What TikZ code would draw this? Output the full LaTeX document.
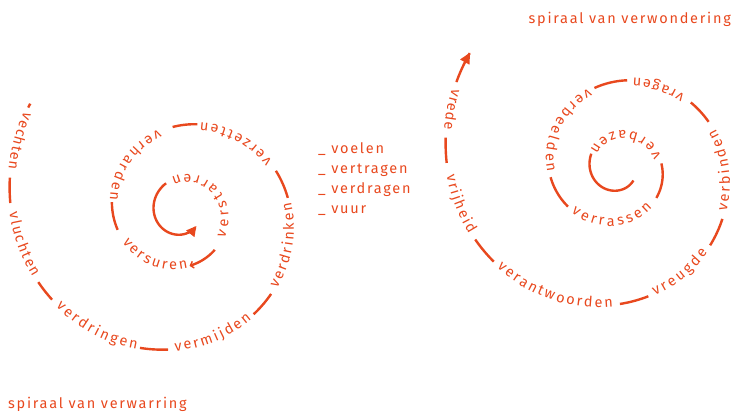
\documentclass[tikz,border=0pt]{standalone}
\usepackage{fontspec}
\setmainfont{Fira Sans}
\newfontfamily\spfont{Fira Sans}
\newfontfamily\lbfont[LetterSpace=12]{Fira Sans}
\usetikzlibrary{decorations.text,arrows.meta}
\definecolor{spo}{RGB}{232,72,30}
\newcommand\spstyle{\spfont\fontsize{14.5}{17}\selectfont\color{spo}}
\newcommand\spword[5]{%
  \path[decorate,decoration={text along path,text={|\spstyle|#5},text align={fit to path},raise=-2pt}]
    plot[domain=#3:#4,samples=60] ({#1+R(\x)*cos(\x)},{#2+R(\x)*sin(\x)});}
\newcommand\spseg[5][]{%
  \draw[segline,#1] plot[domain=#4:#5,samples=40] ({#2+R(\x)*cos(\x)},{#3+R(\x)*sin(\x)});}
\begin{document}
\begin{tikzpicture}[x=1pt,y=1pt,
  declare function={R(\t)=62*exp(-(\t-585)/400);},
  segline/.style={draw=spo,line width=2.4pt},
  lab/.style={font=\lbfont\fontsize{14.5}{17}\selectfont,text=spo,inner sep=0pt,anchor=base west},
  ttl/.style={font=\lbfont\fontsize{14.5}{17}\selectfont,text=spo,inner sep=0pt}]
\useasboundingbox (0,0) rectangle (733,-412);
% ---------- left spiral: spiraal van verwarring ----------
\spseg{182}{-212}{144.5}{145.8}
\spword{182}{-212}{147.5}{166}{vechten}
\spseg{182}{-212}{168.7}{177}
\spword{182}{-212}{180}{203.5}{vluchten}
\spseg{182}{-212}{206}{214}
\spword{182}{-212}{216.7}{251.7}{verdringen}
\spseg{182}{-212}{252.8}{264.2}
\spword{182}{-212}{267}{303}{vermijden}
\spseg{182}{-212}{305}{317.4}
\spword{182}{-212}{321}{364.9}{verdrinken}
\spseg{182}{-212}{367.6}{383.7}
\spword{182}{-212}{389}{438.3}{verzetten}
\spseg{182}{-212}{440}{456.3}
\spword{182}{-212}{465.6}{530.5}{verharden}
\spseg{182}{-212}{531.9}{555.5}
\spword{182}{-212}{566.6}{635.9}{versuren}
\spseg[{Straight Barb[length=3pt,width=7pt,line width=1.4pt]}-]{182}{-212}{638}{670.9}
\spword{182}{-212}{688}{827}{verstarren}
\spseg[-{Triangle[length=10pt,width=10pt]}]{182}{-212}{839}{1036}
% ---------- right spiral: spiraal van verwondering ----------
\spseg[{Triangle[length=11pt,width=10pt]}-]{618}{-168}{142}{152}
\spword{618}{-168}{154.2}{167.5}{vrede}
\spseg{618}{-168}{170}{178.3}
\spword{618}{-168}{182.4}{203.8}{vrijheid}
\spseg{618}{-168}{206.6}{217}
\spword{618}{-168}{219.3}{267.9}{verantwoorden}
\spseg{618}{-168}{270.8}{283.3}
\spword{618}{-168}{286}{316.6}{vreugde}
\spseg{618}{-168}{320}{334}
\spword{618}{-168}{338}{381.8}{verbinden}
\spseg{618}{-168}{387}{402}
\spword{618}{-168}{407}{440.3}{vragen}
\spseg{618}{-168}{444}{466.4}
\spword{618}{-168}{470}{543.4}{verbeelden}
\spseg{618}{-168}{547.8}{577.6}
\spword{618}{-168}{583}{671}{verrassen}
\spseg{618}{-168}{682}{726}
\spword{618}{-168}{734.7}{867}{verbazen}
\spseg{618}{-168}{871.8}{1041}
% ---------- labels ----------
\node[lab] (l1) at (318,-153) {\_ voelen};
\node[lab] (l2) at (318,-173) {\_ vertragen};
\node[lab] (l3) at (318,-193) {\_ verdragen};
\node[lab] (l4) at (318,-213) {\_ vuur};
\node[ttl,anchor=base west] (t1) at (8,-408) {spiraal van verwarring};
\node[ttl,anchor=base east] (t2) at (731,-24) {spiraal van verwondering};
\end{tikzpicture}
\end{document}
